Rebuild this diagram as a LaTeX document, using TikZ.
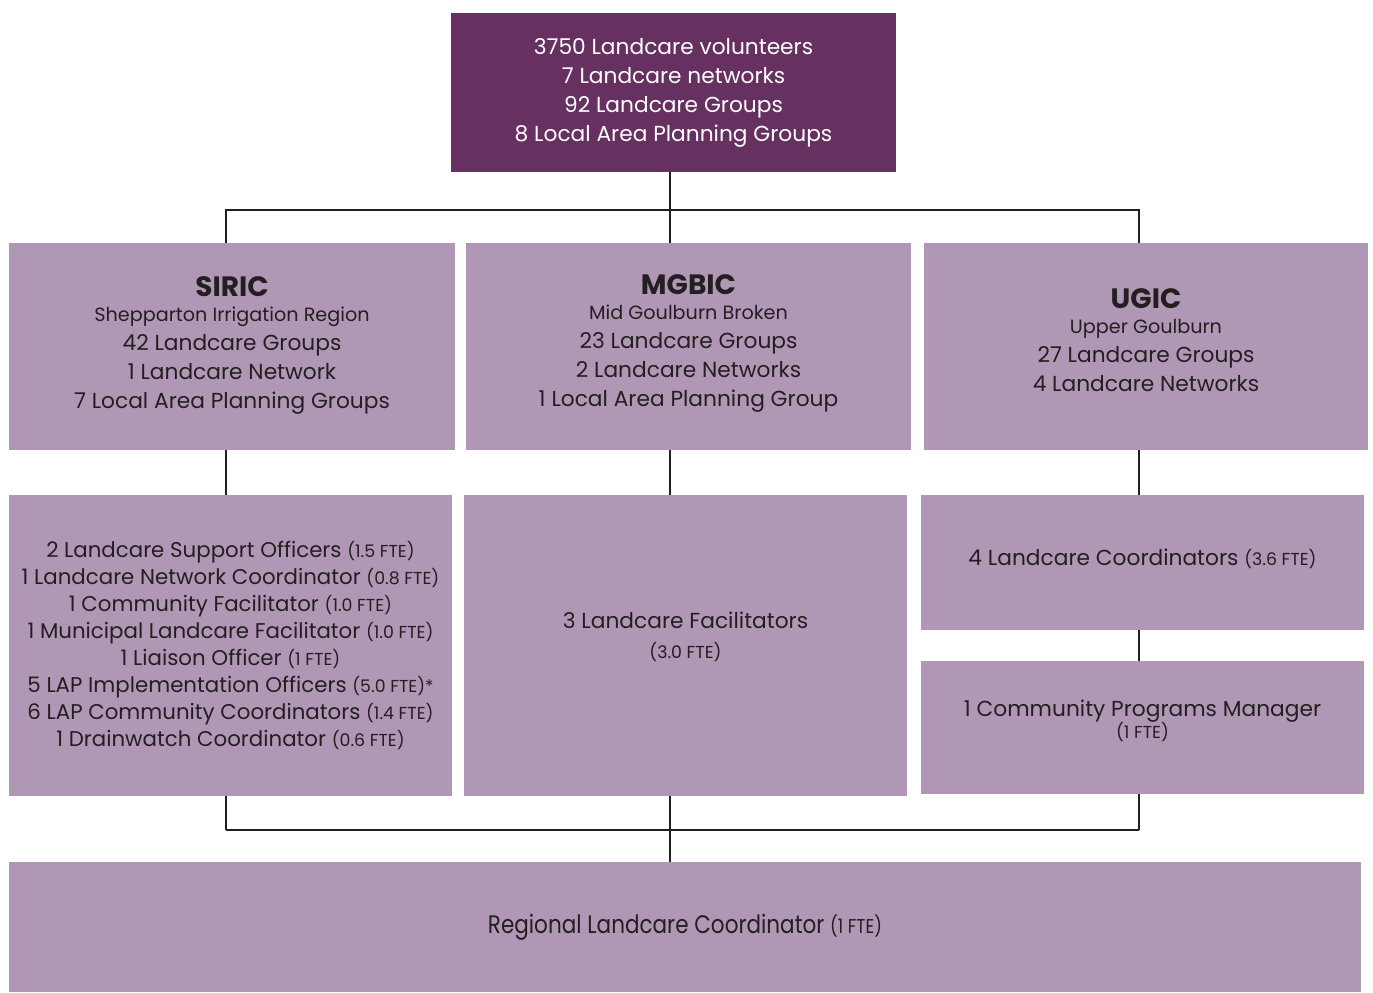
\documentclass[tikz,border=0pt]{standalone}
\usepackage{fontspec}
\setmainfont{Poppins}
\definecolor{topplum}{HTML}{663061}
\definecolor{lilac}{HTML}{B197B6}
\definecolor{inkgrey}{HTML}{231F20}
\newcommand{\fte}[1]{{\fontsize{13}{14}\selectfont #1}}
\newcommand{\bigtitle}[1]{{\fontsize{21}{22}\selectfont\bfseries #1}}
\newcommand{\subtitle}[1]{{\fontsize{14.4}{15}\selectfont #1}}
\tikzset{
  box/.style={fill=lilac, text=inkgrey, align=center, inner sep=0pt,
    font=\fontsize{16.3}{21.75}\selectfont},
  topbox/.style={box, fill=topplum, text=white},
  link/.style={draw=inkgrey, line width=1.5pt}
}
\begin{document}
\begin{tikzpicture}[x=0.75pt,y=0.75pt,yscale=-1,xscale=1]
\useasboundingbox (0,0) rectangle (1373,992);

\node[topbox, minimum width=333.75pt, minimum height=119.25pt] (top) at (673.5,92.5)
  {3750 Landcare volunteers\\7 Landcare networks\\92 Landcare Groups\\8 Local Area Planning Groups};

\node[box, minimum width=334.5pt, minimum height=155.25pt] (siric) at (232,346.5)
  {\bigtitle{SIRIC}\\[-3pt]\subtitle{Shepparton Irrigation Region}\\42 Landcare Groups\\1 Landcare Network\\7 Local Area Planning Groups\\[-16pt]};
\node[box, minimum width=333.75pt, minimum height=155.25pt] (mgbic) at (688.5,346.5)
  {\bigtitle{MGBIC}\\[-3pt]\subtitle{Mid Goulburn Broken}\\23 Landcare Groups\\2 Landcare Networks\\1 Local Area Planning Group\\[-12.75pt]};
\node[box, minimum width=333pt, minimum height=155.25pt] (ugic) at (1146,346.5)
  {\bigtitle{UGIC}\\[-3pt]\subtitle{Upper Goulburn}\\27 Landcare Groups\\4 Landcare Networks\\[-12.75pt]};

\node[box, minimum width=332.25pt, minimum height=225.75pt, font=\fontsize{16}{20.2}\selectfont] (sirstaff) at (230.5,645.5)
  {2 Landcare Support Officers \fte{(1.5 FTE)}\\
   1 Landcare Network Coordinator \fte{(0.8 FTE)}\\
   1 Community Facilitator \fte{(1.0 FTE)}\\
   1 Municipal Landcare Facilitator \fte{(1.0 FTE)}\\
   1 Liaison Officer \fte{(1 FTE)}\\
   5 LAP Implementation Officers \fte{(5.0 FTE)*}\\
   6 LAP Community Coordinators \fte{(1.4 FTE)}\\
   1 Drainwatch Coordinator \fte{(0.6 FTE)}};
\node[box, minimum width=332.25pt, minimum height=225.75pt] (mgstaff) at (685.5,645.5)
  {3 Landcare Facilitators\\[1pt]\fte{(3.0 FTE)}\\[-6pt]};
\node[box, minimum width=332.25pt, minimum height=101.25pt] (ugcoord) at (1142.5,562.5)
  {4 Landcare Coordinators \fte{(3.6 FTE)}\\[-14pt]};
\node[box, minimum width=332.25pt, minimum height=99.75pt] (ugmgr) at (1142.5,727.5)
  {1 Community Programs Manager\\[-5pt]\fte{(1 FTE)}\\[-9pt]};

\node[box, minimum width=1014pt, minimum height=97.5pt] (regional) at (685,927)
  {\scalebox{0.85}[1]{\fontsize{19}{21}\selectfont Regional Landcare Coordinator {\fontsize{15}{16}\selectfont (1 FTE)}}};

% connectors
\coordinate (hub) at (670,210);
\coordinate (foot) at (670,830);
\coordinate (colL) at (226,0);
\coordinate (colR) at (1139,0);

\draw[link] (top.south -| hub) -- (hub);
\draw[link] (siric.north -| colL) |- (hub) -| (ugic.north -| colR);
\draw[link] (hub) -- (mgbic.north -| hub);

\draw[link] (siric.south -| colL) -- (sirstaff.north -| colL);
\draw[link] (mgbic.south -| hub) -- (mgstaff.north -| hub);
\draw[link] (ugic.south -| colR) -- (ugcoord.north -| colR);
\draw[link] (ugcoord.south -| colR) -- (ugmgr.north -| colR);

\draw[link] (sirstaff.south -| colL) -- (foot -| colL);
\draw[link] (ugmgr.south -| colR) -- (foot -| colR);
\draw[link, line width=2.2pt] (foot -| colL) -- (foot -| colR);
\draw[link] (mgstaff.south -| foot) -- (regional.north -| foot);

\end{tikzpicture}
\end{document}
